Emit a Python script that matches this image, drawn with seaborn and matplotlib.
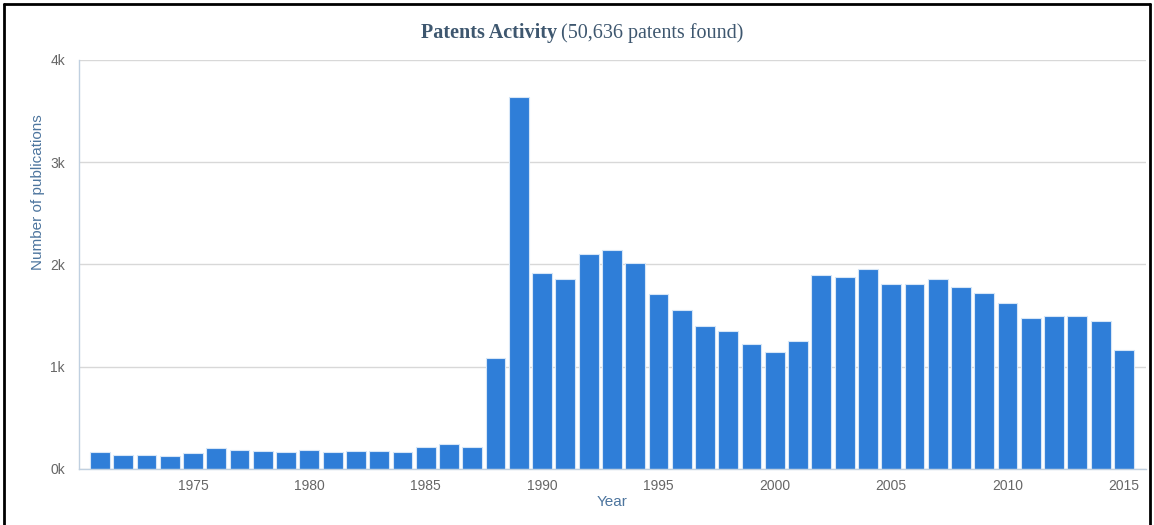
import numpy as np
import pandas as pd
import matplotlib
matplotlib.use("Agg")
import matplotlib.pyplot as plt
from matplotlib.lines import Line2D
import seaborn as sns

# ==============================
# Data
# ==============================

years = list(range(1971, 2016))
publications = [
    170, 140, 140, 130, 155, 205, 190, 180, 165, 190,
    165, 180, 180, 165, 218, 245, 218, 1085, 3640, 1920,
    1857, 2100, 2140, 2010, 1710, 1553, 1400, 1348, 1224, 1143,
    1247, 1900, 1880, 1960, 1810, 1810, 1857, 1780, 1720, 1620,
    1475, 1500, 1500, 1450, 1160,
]
tick_years = [1975, 1980, 1985, 1990, 1995, 2000, 2005, 2010, 2015]
y_ticks = [0, 1000, 2000, 3000, 4000]
y_tick_labels = ["0k", "1k", "2k", "3k", "4k"]

df = pd.DataFrame({"Year": years, "Publications": publications})

# ==============================
# Style
# ==============================

sns.set_style("white")
plt.rcParams["font.family"] = ["Liberation Sans", "DejaVu Sans"]

bar_color = "#2F7ED8"
axis_color = "#C0D0E0"
label_color = "#4D759E"
tick_color = "#666666"
title_color = "#3E576F"

fig = plt.figure(figsize=(11.54, 5.25), dpi=100)
ax = fig.add_axes([79 / 1154, 1 - 469 / 525, (1146 - 79) / 1154, (469 - 60) / 525])

sns.barplot(
    data=df,
    x="Year",
    y="Publications",
    color=bar_color,
    saturation=1,
    width=0.85,
    edgecolor="#D6E6F7",
    linewidth=0.8,
    ax=ax,
)

# ==============================
# Axes
# ==============================

ax.set_xlim(-0.9, len(years) - 1 + 0.95)
ax.set_ylim(0, 4000)

ax.set_yticks(y_ticks)
ax.set_yticklabels(y_tick_labels)
ax.set_xticks([years.index(y) for y in tick_years])
ax.set_xticklabels([str(y) for y in tick_years])

ax.yaxis.grid(True, color="#D8D8D8", linewidth=1)
ax.set_axisbelow(True)

for side in ["top", "right"]:
    ax.spines[side].set_visible(False)
for side in ["left", "bottom"]:
    ax.spines[side].set_color(axis_color)
    ax.spines[side].set_linewidth(1)

ax.tick_params(axis="x", colors=axis_color, length=5, width=1, direction="out",
               labelcolor=tick_color, labelsize=10, pad=2)
ax.tick_params(axis="y", length=0, labelcolor=tick_color, labelsize=10, pad=10)

ax.set_xlabel("Year", color=label_color, fontsize=11, labelpad=2)
ax.set_ylabel("Number of publications", color=label_color, fontsize=11)
# label sits above the axis centre in the reference
ax.yaxis.set_label_coords(-0.032, 0.677)

# ==============================
# Title (bold part + regular part)
# ==============================

fig.text(557 / 1154, 1 - 33 / 525, "Patents Activity", ha="right", va="center",
         fontsize=14.5, fontweight="bold", color=title_color, family=["Liberation Serif"])
fig.text(561 / 1154, 1 - 33 / 525, "(50,636 patents found)", ha="left", va="center",
         fontsize=14.5, color=title_color, family=["Liberation Serif"])

# ==============================
# Screenshot frame
# ==============================

frame_kw = dict(transform=fig.transFigure, color="black", linewidth=2)
fig.add_artist(Line2D([4 / 1154, 4 / 1154], [0, 1 - 4 / 525], **frame_kw))
fig.add_artist(Line2D([4 / 1154, 1150 / 1154], [1 - 4 / 525, 1 - 4 / 525], **frame_kw))
fig.add_artist(Line2D([1150 / 1154, 1150 / 1154], [0, 1 - 4 / 525], **frame_kw))

fig.savefig("out.png", dpi=100)
plt.close()
